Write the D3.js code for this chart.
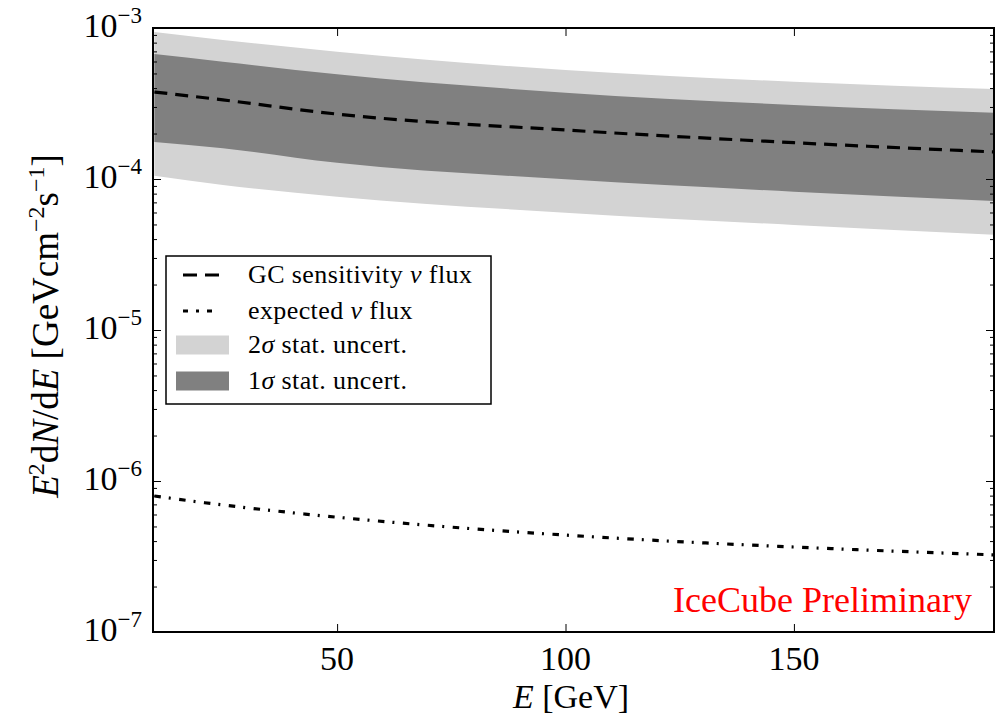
<!DOCTYPE html>
<meta charset="utf-8">
<script src="https://d3js.org/d3.v7.min.js"></script>
<style>
  body { margin: 0; background: #fff; }
  svg text { font-family: "Liberation Serif", "DejaVu Serif", serif; }
</style>
<div id="chart"></div>
<script>

// values
var energy      = [10, 25, 50, 100, 150, 194];
var sensitivity = [3.77e-4, 3.34e-4, 2.69e-4, 2.11e-4, 1.74e-4, 1.51e-4];
var sigma1Lo    = [1.76e-4, 1.60e-4, 1.28e-4, 9.95e-5, 8.24e-5, 7.15e-5];
var sigma1Hi    = [6.72e-4, 5.98e-4, 4.94e-4, 3.73e-4, 3.09e-4, 2.74e-4];
var sigma2Lo    = [1.05e-4, 9.12e-5, 7.64e-5, 5.98e-5, 4.96e-5, 4.27e-5];
var sigma2Hi    = [9.40e-4, 8.33e-4, 6.97e-4, 5.27e-4, 4.41e-4, 3.94e-4];

var expEnergy = [10, 21, 43, 72, 110, 155, 194];
var expected  = [7.96e-7, 7.18e-7, 6.04e-7, 5.03e-7, 4.20e-7, 3.60e-7, 3.24e-7];

var xTicks = [50, 100, 150];
var yExps  = [-7, -6, -5, -4, -3];

var legendItems = [
  {type: "dash",    label: ["GC sensitivity ", "ν", " flux"]},
  {type: "dashdot", label: ["expected ", "ν", " flux"]},
  {type: "light",   label: ["2", "σ", " stat. uncert."]},
  {type: "dark",    label: ["1", "σ", " stat. uncert."]}
];

var W = 999, H = 715;
var margin = {top: 28, right: 5, bottom: 83, left: 153};
var width = W - margin.left - margin.right,
    height = H - margin.top - margin.bottom;

var svg = d3.select("#chart").append("svg")
    .attr("width", W).attr("height", H)
    .attr("font-family", "Liberation Serif, DejaVu Serif, serif");

var g = svg.append("g")
    .attr("transform", "translate(" + margin.left + "," + margin.top + ")");

var x = d3.scaleLinear().domain([9.7, 193.8]).range([0, width]);
var y = d3.scaleLog().domain([1e-7, 1e-3]).range([height, 0]);

g.append("clipPath").attr("id", "clip")
  .append("rect").attr("width", width).attr("height", height);

var plot = g.append("g").attr("clip-path", "url(#clip)");

var bandRows = energy.map(function(e, i) {
  return {e: e, s: sensitivity[i], lo1: sigma1Lo[i], hi1: sigma1Hi[i], lo2: sigma2Lo[i], hi2: sigma2Hi[i]};
});

function band(lo, hi) {
  return d3.area()
    .x(function(d) { return x(d.e); })
    .y0(function(d) { return y(d[lo]); })
    .y1(function(d) { return y(d[hi]); })
    .curve(d3.curveMonotoneX);
}

plot.append("path").datum(bandRows).attr("d", band("lo2", "hi2")).attr("fill", "#d3d3d3");
plot.append("path").datum(bandRows).attr("d", band("lo1", "hi1")).attr("fill", "#808080");

plot.append("path").datum(bandRows)
  .attr("d", d3.line().x(function(d) { return x(d.e); }).y(function(d) { return y(d.s); }).curve(d3.curveMonotoneX))
  .attr("fill", "none").attr("stroke", "#000").attr("stroke-width", 3.2)
  .attr("stroke-dasharray", "13,8");

var expRows = expEnergy.map(function(e, i) { return {e: e, v: expected[i]}; });
plot.append("path").datum(expRows)
  .attr("d", d3.line().x(function(d) { return x(d.e); }).y(function(d) { return y(d.v); }).curve(d3.curveMonotoneX))
  .attr("fill", "none").attr("stroke", "#000").attr("stroke-width", 3.2)
  .attr("stroke-dasharray", "6.5,8,2,8.5");

// ticks point inwards, on all four sides
var majorY = yExps.map(function(k) { return Math.pow(10, k); });
var minorY = [];
for (var k = -7; k < -3; k++) for (var m = 2; m <= 9; m++) minorY.push(m * Math.pow(10, k));

function tickAxis(axis, vals, size) {
  return axis.tickValues(vals).tickSize(-size).tickSizeOuter(0).tickFormat("");
}
var axes = [
  [d3.axisLeft(y), majorY, 8, "translate(0,0)"],
  [d3.axisLeft(y), minorY, 4, "translate(0,0)"],
  [d3.axisRight(y), majorY, 8, "translate(" + width + ",0)"],
  [d3.axisRight(y), minorY, 4, "translate(" + width + ",0)"],
  [d3.axisTop(x), xTicks, 8, "translate(0,0)"],
  [d3.axisBottom(x), xTicks, 8, "translate(0," + height + ")"]
];
axes.forEach(function(a) {
  var ax = g.append("g").attr("transform", a[3]).call(tickAxis(a[0], a[1], a[2]));
  ax.select(".domain").remove();
  ax.selectAll("line").attr("stroke", "#000").attr("stroke-width", 1);
});

g.append("rect").attr("width", width).attr("height", height)
  .attr("fill", "none").attr("stroke", "#000").attr("stroke-width", 2);

// tick labels
g.selectAll(".xlab").data(xTicks).enter().append("text")
  .attr("x", function(d) { return x(d); })
  .attr("y", height + 38)
  .attr("text-anchor", "middle")
  .style("font-size", "34px")
  .text(function(d) { return d; });

var ylab = g.selectAll(".ylab").data(yExps).enter().append("text")
  .attr("x", -11)
  .attr("y", function(d) { return y(Math.pow(10, d)) + 9; })
  .attr("text-anchor", "end")
  .style("font-size", "34px");
ylab.append("tspan").text("10");
ylab.append("tspan").attr("dy", -14).style("font-size", "23px")
  .text(function(d) { return "\u2212" + (-d); });

// axis titles
var xt = svg.append("text").attr("x", 571).attr("y", 708)
  .attr("text-anchor", "middle").style("font-size", "34px");
xt.append("tspan").style("font-style", "italic").text("E");
xt.append("tspan").text(" [GeV]");

var yt = svg.append("text")
  .attr("transform", "translate(58,326) rotate(-90)")
  .attr("text-anchor", "middle").style("font-size", "37px");
yt.append("tspan").style("font-style", "italic").text("E");
yt.append("tspan").attr("dy", -14).style("font-size", "24px").text("2");
yt.append("tspan").attr("dy", 14).text("d");
yt.append("tspan").style("font-style", "italic").text("N");
yt.append("tspan").text("/d");
yt.append("tspan").style("font-style", "italic").text("E");
yt.append("tspan").text(" [GeVcm");
yt.append("tspan").attr("dy", -14).style("font-size", "24px").text("\u22122");
yt.append("tspan").attr("dy", 14).text("s");
yt.append("tspan").attr("dy", -14).style("font-size", "24px").text("\u22121");
yt.append("tspan").attr("dy", 14).text("]");

// watermark
g.append("text").attr("x", width - 22).attr("y", height - 20)
  .attr("text-anchor", "end").style("fill", "#ff0000")
  .style("font-size", "36px").text("IceCube Preliminary");

// legend
var leg = svg.append("g").attr("transform", "translate(166,256)");
leg.append("rect").attr("width", 325).attr("height", 148)
  .attr("fill", "#fff").attr("stroke", "#000").attr("stroke-width", 1.5);

var rowY = [19, 55, 89, 125];
legendItems.forEach(function(d, i) {
  var r = leg.append("g").attr("transform", "translate(0," + rowY[i] + ")");
  if (d.type === "dash") {
    r.append("line").attr("x1", 17).attr("x2", 53).attr("stroke", "#000")
      .attr("stroke-width", 3.2).attr("stroke-dasharray", "14,8");
  } else if (d.type === "dashdot") {
    r.append("line").attr("x1", 17).attr("x2", 53).attr("stroke", "#000")
      .attr("stroke-width", 3.2).attr("stroke-dasharray", "5,8,3,8");
  } else {
    r.append("rect").attr("x", 10).attr("y", -9.5).attr("width", 53).attr("height", 19)
      .attr("fill", d.type === "light" ? "#d3d3d3" : "#808080");
  }
  var t = r.append("text").attr("x", 82).attr("y", 8)
    .style("font-size", "26px").style("letter-spacing", "0.4px");
  t.append("tspan").text(d.label[0]);
  t.append("tspan").style("font-style", "italic").text(d.label[1]);
  t.append("tspan").text(d.label[2]);
});

</script>
